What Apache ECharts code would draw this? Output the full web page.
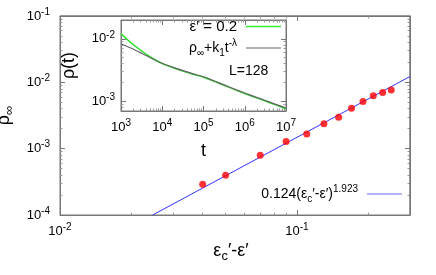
<!DOCTYPE html>
<html><head><meta charset="utf-8">
<script src="https://cdn.jsdelivr.net/npm/echarts@6/dist/echarts.min.js"></script>
<style>html,body{margin:0;padding:0;background:#fff}#c{width:436px;height:275px}</style>
</head><body><div id="c"></div><script>
// main plot data
const epsDiff = [0.04, 0.05, 0.07, 0.09, 0.11, 0.13, 0.15, 0.17, 0.19, 0.21, 0.23, 0.25];
const rhoInf  = [2.9e-4, 3.97e-4, 7.94e-4, 1.28e-3, 1.67e-3, 2.38e-3, 2.98e-3, 4.06e-3, 5.12e-3, 6.3e-3, 7.0e-3, 7.67e-3];
// power-law fit 0.124 x^1.923 (straight on log-log): end points
const fitX = [0.0246, 0.3];
const fitY = [1e-4, 0.01225];
// inset data
const insetT  = [1e3, 1.778e3, 3.162e3, 5.623e3, 1e4, 1.778e4, 3.162e4, 5.623e4, 1e5, 1.778e5, 3.162e5, 5.623e5, 1e6, 1.778e6, 3.162e6, 5.623e6, 1e7];
const rhoT    = [0.01207, 0.00857, 0.00638, 0.00493, 0.00400, 0.00348, 0.00305, 0.00271, 0.00243, 0.00210, 0.00180, 0.00155, 0.00133, 0.00116, 0.00101, 0.000877, 0.000762];
const rhoFitT = [0.00835, 0.00705, 0.00586, 0.00484, 0.00406, 0.00352, 0.00310, 0.00275, 0.00247, 0.00213, 0.00183, 0.00157, 0.00136, 0.00118, 0.00103, 0.000895, 0.000782];
// tick values
const mainXTicks  = [0.01, 0.1];
const mainYTicks  = [1e-4, 1e-3, 1e-2, 1e-1];
const insetXTicks = [1e3, 1e4, 1e5, 1e6, 1e7];
const insetYTicks = [1e-3, 1e-2];
// axis ranges (main frame corners: top edge and right edge)
const mainXRange = [0.01, 0.3];
const mainYRange = [1e-4, 0.1];

const FF = 'Liberation Sans, Arial, sans-serif';
const AX = '#777';
function tickRich() {
  return {
    b: {fontSize: 13, lineHeight: 18, fontFamily: FF, color: '#000'},
    s: {fontSize: 10, lineHeight: 10, verticalAlign: 'top', fontFamily: FF, color: '#000'}
  };
}
function powFmt(v) { const e = Math.round(Math.log10(v)); return '{b|10}{s|' + e + '}'; }
function nameRich() {
  return {
    b: {fontSize: 18, lineHeight: 24, fontFamily: FF, color: '#000'},
    sub: {fontSize: 13, lineHeight: 12, verticalAlign: 'bottom', fontFamily: FF, color: '#000'}
  };
}
function primary(grid, min, max, major, pos, margin, name, nameGap, rot) {
  const a = {
    type: 'log', gridIndex: grid, min: min, max: max, position: pos,
    splitLine: {show: false},
    axisLine: {show: true, onZero: false, lineStyle: {color: AX, width: 1}},
    axisTick: {show: true, inside: true, length: 5, customValues: major.slice(), lineStyle: {color: AX}},
    minorTick: {show: true, splitNumber: 9, length: 2.5, lineStyle: {color: '#999'}},
    axisLabel: {show: true, customValues: major.slice(), formatter: powFmt, rich: tickRich(), margin: margin},
    name: name, nameLocation: 'middle', nameGap: nameGap, nameTextStyle: {rich: nameRich()}
  };
  if (rot) a.nameRotate = rot;
  return a;
}
function mirror(grid, min, max, major, pos) {
  return {
    type: 'log', gridIndex: grid, min: min, max: max, position: pos,
    splitLine: {show: false},
    axisLine: {show: true, onZero: false, lineStyle: {color: AX, width: 1}},
    axisTick: {show: true, inside: true, length: 5, customValues: major.slice(), lineStyle: {color: AX}},
    minorTick: {show: true, splitNumber: 9, length: 2.5, lineStyle: {color: '#999'}},
    axisLabel: {show: false}
  };
}

const xAxes = [
  primary(0, mainXRange[0], mainXRange[1], mainXTicks, 'bottom', 7, '{b|ε}{sub|c}{b|′-ε′}', 23),
  mirror(0, mainXRange[0], mainXRange[1], mainXTicks, 'top'),
  primary(1, 1e3, 1e7, insetXTicks, 'bottom', 7, '{b|t}', 28),
  mirror(1, 1e3, 1e7, insetXTicks, 'top')
];
const yAxes = [
  primary(0, mainYRange[0], mainYRange[1], mainYTicks, 'left', 10, '{b|ρ}{sub|∞}', 42, 90),
  mirror(0, mainYRange[0], mainYRange[1], mainYTicks, 'right'),
  primary(1, 7e-4, 2e-2, insetYTicks, 'left', 6, '{b|ρ(t)}', 40, 90),
  mirror(1, 7e-4, 2e-2, insetYTicks, 'right')
];
xAxes[0].nameTextStyle.padding = [0, 8, 0, 0];

function legRich() {
  return {
    b: {fontSize: 14, lineHeight: 20, fontFamily: FF, color: '#000'},
    bl: {fontSize: 15, lineHeight: 20, fontFamily: FF, color: '#000'},
    sub: {fontSize: 10, lineHeight: 9, verticalAlign: 'bottom', fontFamily: FF, color: '#000'},
    sup: {fontSize: 10, lineHeight: 10, verticalAlign: 'top', fontFamily: FF, color: '#000'},
    gap: {width: 4, lineHeight: 10}
  };
}
const legendText = {
  'eps': '{bl|ε′ = 0.2}{gap| }',
  'fitT': '{b|ρ}{sub|∞}{b|+k}{sub|1}{b|t}{sup|-λ}{gap| }',
  'pow': '{b|0.124(ε}{sub|c}{b|′-ε′)}{sup|1.923}{gap| }'
};
function leg(name, right, top, h) {
  return {data: [name], right: right, top: top, padding: 0, align: 'right', itemWidth: 35, itemHeight: h,
    icon: 'rect', z: 50, formatter: n => legendText[n], textStyle: {rich: legRich()}, selectedMode: false};
}

const option = {
  animation: false,
  grid: [
    {left: 60, top: 16, width: 350, height: 199, show: true, borderColor: AX, borderWidth: 1, outerBoundsMode: 'none'},
    {left: 121, top: 20, width: 165, height: 91, show: true, borderColor: AX, borderWidth: 1, outerBoundsMode: 'none'}
  ],
  xAxis: xAxes,
  yAxis: yAxes,
  legend: [leg('eps', 155, 19, 1.5), leg('fitT', 155, 38, 1.2), leg('pow', 34, 184, 1)],
  graphic: [{id: 'L', type: 'text', left: 229, top: 64, z: 100,
    style: {text: 'L=128', font: '14px ' + FF, fill: '#000'}}],
  series: [
    // top and right edges of the main frame, placed through the axes' own scales
    {name: 'frame', type: 'line', xAxisIndex: 0, yAxisIndex: 0, symbol: 'none', clip: false, silent: true,
      lineStyle: {color: AX, width: 1}, z: 1,
      data: [[mainXRange[0], mainYRange[1]], [mainXRange[1], mainYRange[1]], [mainXRange[1], mainYRange[0]]]},
    {name: 'pow', type: 'line', xAxisIndex: 0, yAxisIndex: 0, symbol: 'none',
      lineStyle: {color: '#3333ff', width: 1}, itemStyle: {color: '#6666ff'},
      data: fitX.map((x, i) => [x, fitY[i]]), z: 2},
    {name: 'pts', type: 'scatter', xAxisIndex: 0, yAxisIndex: 0, symbol: 'circle', symbolSize: 7,
      itemStyle: {color: '#ff0000'}, data: epsDiff.map((x, i) => [x, rhoInf[i]]), z: 3},
    {name: 'eps', type: 'line', xAxisIndex: 2, yAxisIndex: 2, symbol: 'none', smooth: 0.3,
      lineStyle: {color: '#22dd22', width: 1.5}, itemStyle: {color: '#33ee33'},
      data: insetT.map((t, i) => [t, rhoT[i]]), z: 10},
    {name: 'fitT', type: 'line', xAxisIndex: 2, yAxisIndex: 2, symbol: 'none', smooth: 0.3,
      lineStyle: {color: '#666666', width: 1.2}, itemStyle: {color: '#666666'},
      data: insetT.map((t, i) => [t, rhoFitT[i]]), z: 11}
  ]
};
const chart = echarts.init(document.getElementById('c'), null, {renderer: 'canvas'});
chart.setOption(option);
</script></body></html>
